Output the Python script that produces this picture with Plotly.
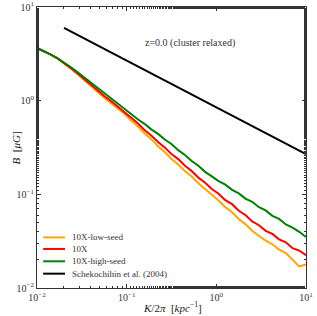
import plotly.graph_objects as go

k = [0.01, 0.0119, 0.0141, 0.0168, 0.02, 0.0237, 0.0282, 0.0335, 0.0398, 0.0473,
     0.0562, 0.0668, 0.0794, 0.0944, 0.112, 0.133, 0.158, 0.188, 0.224, 0.266,
     0.316, 0.376, 0.447, 0.531, 0.631, 0.750, 0.891, 1.06, 1.26, 1.50,
     1.78, 2.11, 2.51, 2.99, 3.55, 4.22, 5.01, 5.96, 7.08, 8.41, 10.0]

# log10(B / muG)
logb_low_seed = [0.562, 0.530, 0.494, 0.453, 0.402, 0.345, 0.285, 0.224, 0.157, 0.095,
                 0.030, -0.024, -0.086, -0.140, -0.211, -0.274, -0.348, -0.411, -0.486, -0.549,
                 -0.623, -0.681, -0.752, -0.810, -0.881, -0.940, -1.008, -1.066, -1.137, -1.192,
                 -1.263, -1.318, -1.388, -1.440, -1.495, -1.533, -1.590, -1.628, -1.700, -1.770, -1.750]
logb_10x = [0.562, 0.530, 0.495, 0.454, 0.405, 0.350, 0.292, 0.230, 0.167, 0.108,
            0.049, -0.004, -0.065, -0.117, -0.184, -0.242, -0.313, -0.371, -0.441, -0.499,
            -0.570, -0.624, -0.695, -0.750, -0.822, -0.876, -0.944, -0.993, -1.062, -1.105,
            -1.175, -1.220, -1.290, -1.330, -1.390, -1.423, -1.480, -1.512, -1.575, -1.600, -1.650]
logb_high_seed = [0.562, 0.530, 0.495, 0.455, 0.410, 0.360, 0.306, 0.250, 0.194, 0.137,
                  0.080, 0.026, -0.034, -0.086, -0.140, -0.199, -0.247, -0.306, -0.355, -0.415,
                  -0.462, -0.528, -0.580, -0.645, -0.694, -0.760, -0.808, -0.858, -0.896, -0.952,
                  -0.990, -1.045, -1.080, -1.138, -1.172, -1.230, -1.262, -1.322, -1.355, -1.400, -1.455]

k_ref = [0.02, 10.0]
b_ref = [6.0, 0.268]

tick_vals = [0.01, 0.1, 1, 10]
tick_text = ["10<sup>−2</sup>", "10<sup>−1</sup>", "10<sup>0</sup>", "10<sup>1</sup>"]

series = [
    ("10X-low-seed", logb_low_seed, "#FFA500"),
    ("10X", logb_10x, "#FF0000"),
    ("10X-high-seed", logb_high_seed, "#008000"),
]
legend_names = ["10X-low-seed", "10X", "10X-high-seed", "Schekochihin et al. (2004)"]
legend_colors = ["#FFA500", "#FF0000", "#008000", "#000000"]

FONT = "Liberation Serif"
TXT = "#333333"
fig = go.Figure()
for name, lb, col in series:
    fig.add_trace(go.Scatter(x=k, y=[10 ** v for v in lb], mode="lines", name=name,
                             line=dict(color=col, width=2)))
fig.add_trace(go.Scatter(x=k_ref, y=b_ref, mode="lines", name="Schekochihin et al. (2004)",
                         line=dict(color="black", width=2)))

axis_common = dict(type="log", tickvals=tick_vals, ticktext=tick_text, showgrid=False,
                   zeroline=False, showline=True, linecolor=TXT, linewidth=1,
                   mirror="allticks", ticks="inside", ticklen=4, tickcolor=TXT,
                   automargin=False,
                   tickfont=dict(family=FONT, size=10, color=TXT),
                   minor=dict(ticks="inside", ticklen=2, tickcolor=TXT, showgrid=False))

fig.update_xaxes(range=[-2, 1], **axis_common)
fig.update_yaxes(range=[-2, 1], **axis_common)

# axis titles
fig.add_annotation(x=0.502, y=-0.068, xref="paper", yref="paper", showarrow=False,
                   yanchor="middle", text="<i>K</i>/2<i>π</i>  [<i>kpc</i><sup>−1</sup>]",
                   font=dict(family=FONT, size=11, color="#222"))
fig.add_annotation(x=-0.108, y=0.5, xref="paper", yref="paper", showarrow=False,
                   textangle=-90, text="<i>B</i>  [<i>μG</i>]",
                   font=dict(family=FONT, size=11, color="#222"))

fig.add_annotation(x=0.743, y=0.9, xref="paper", yref="paper", showarrow=False,
                   text="z=0.0 (cluster relaxed)", font=dict(family=FONT, size=10, color=TXT))

# compact legend (matplotlib style)
leg_y = [0.180, 0.139, 0.095, 0.051]
for name, col, yy in zip(legend_names, legend_colors, leg_y):
    fig.add_shape(type="line", xref="paper", yref="paper", x0=0.023, x1=0.104, y0=yy, y1=yy,
                  line=dict(color=col, width=2))
    fig.add_annotation(x=0.122, y=yy, xref="paper", yref="paper", showarrow=False,
                       xanchor="left", yanchor="middle", text=name,
                       font=dict(family=FONT, size=9, color=TXT))

fig.update_layout(
    width=317, height=316,
    margin=dict(l=37, r=11, t=7, b=28),
    plot_bgcolor="white", paper_bgcolor="white",
    showlegend=False,
)

fig.write_html("out.html", config={"displayModeBar": False},
               post_script="document.body.style.margin='0px';")
